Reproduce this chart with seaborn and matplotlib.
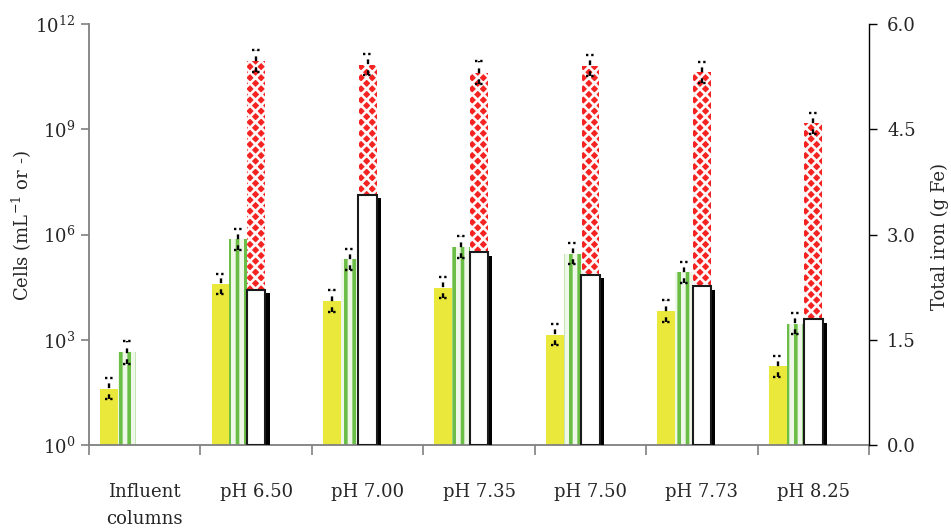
import numpy as np
import pandas as pd
import matplotlib
matplotlib.use("Agg")
import matplotlib.pyplot as plt
import matplotlib.patheffects as pe
from matplotlib.ticker import NullLocator
import seaborn as sns

# ---------------- data ----------------
categories = ["Influent\ncolumns", "pH 6.50", "pH 7.00", "pH 7.35",
              "pH 7.50", "pH 7.73", "pH 8.25"]
yellow_cells = [40, 3.9e4, 1.27e4, 3.0e4, 1.37e3, 6.6e3, 178]
green_cells = [437, 7.4e5, 2.0e5, 4.4e5, 2.8e5, 8.5e4, 2.9e3]
red_cells = [np.nan, 9.0e10, 6.8e10, 4.1e10, 6.5e10, 4.2e10, 1.5e9]
total_iron = [np.nan, 2.21, 3.57, 2.75, 2.43, 2.26, 1.79]
# error bars, half-range in decades (log10)
yellow_err = [0.30, 0.29, 0.31, 0.30, 0.30, 0.30, 0.30]
green_err = [0.32, 0.30, 0.30, 0.30, 0.30, 0.30, 0.30]
red_err = [np.nan, 0.31, 0.30, 0.32, 0.30, 0.30, 0.30]
left_ticks = [1, 1e3, 1e6, 1e9, 1e12]
left_ticklabels = ["$10^{0}$", "$10^{3}$", "$10^{6}$", "$10^{9}$", "$10^{12}$"]
right_ticks = [0.0, 1.5, 3.0, 4.5, 6.0]
right_ticklabels = ["0.0", "1.5", "3.0", "4.5", "6.0"]

series_names = ["Yellow", "Green", "Red", "_s4", "_s5"]

# ---------------- style ----------------
sns.set_theme(style="ticks")
plt.rcParams["font.family"] = ["DejaVu Serif"]
plt.rcParams["mathtext.fontset"] = "dejavuserif"
plt.rcParams["hatch.linewidth"] = 1.9

YELLOW = "#ebe83c"
GREEN = "#6abd45"
RED = "#f52222"
GRAY = "#808080"
FS = 13

rows = []
for name, vals, errs in [("Yellow", yellow_cells, yellow_err),
                         ("Green", green_cells, green_err),
                         ("Red", red_cells, red_err)]:
    for c, v, e in zip(categories, vals, errs):
        rows.append({"cat": c, "series": name, "cells": v, "err": e})
cells_df = pd.DataFrame(rows)
iron_df = pd.DataFrame({"cat": categories, "iron": total_iron})

fig, ax = plt.subplots(figsize=(9.51, 5.32), dpi=100)
fig.subplots_adjust(left=0.0936, right=0.9138, bottom=0.1635, top=0.9549)
ax.set_yscale("log")

palette = {"Yellow": YELLOW, "Green": "#eef7e8", "Red": RED,
           "_s4": "white", "_s5": "white"}
sns.barplot(data=cells_df, x="cat", y="cells", hue="series",
            hue_order=series_names, order=categories, palette=palette,
            width=0.8, saturation=1, errorbar=None, legend=False,
            linewidth=0, ax=ax)

# style containers: yellow solid, green stripes, red dots (white lattice on red)
styles = {
    "Yellow": dict(hatch=None, edge=YELLOW, hlw=None),
    "Green": dict(hatch="||", edge=GREEN, hlw=2.6),
    "Red": dict(hatch="xxx", edge="#fff8f8", hlw=1.9),
}
err_lookup = {"Yellow": yellow_err, "Green": green_err, "Red": red_err}
present = [s for s in series_names if cells_df.loc[cells_df.series == s, "cells"].notna().any()]
for name, cont in zip(present, ax.containers):
    st = styles[name]
    for p in cont.patches:
        p.set_linewidth(0)
        p.set_edgecolor(st["edge"])
        if st["hatch"]:
            p.set_hatch(st["hatch"])
            if hasattr(p, "set_hatch_linewidth"):
                p.set_hatch_linewidth(st["hlw"])
        # error bars
        h = p.get_height()
        if not np.isfinite(h) or h <= 0:
            continue
        xc = p.get_x() + p.get_width() / 2
        idx = int(round(xc))
        e = err_lookup[name][idx]
        lo, hi = h / 10 ** e, h * 10 ** e
        hw = p.get_width() * 0.24
        ax.vlines(xc, lo, hi, colors="black", linewidth=1.7,
                  linestyles=(0, (2.0, 2.6)), zorder=5)
        ax.hlines([lo, hi], xc - hw, xc + hw, colors="black", linewidth=1.7,
                  linestyles=(0, (1.0, 1.2)), zorder=5)

ax.set_ylim(1, 1e12)
ax.set_yticks(left_ticks)
ax.set_yticklabels(left_ticklabels)
ax.yaxis.set_minor_locator(NullLocator())
ax.tick_params(axis="y", which="major", length=6, width=1.2, color=GRAY,
               direction="out", labelsize=FS, pad=4)

# secondary axis: total iron
ax2 = ax.twinx()
sns.barplot(data=iron_df, x="cat", y="iron", order=categories, ax=ax2,
            width=0.167, color="white", saturation=1, errorbar=None,
            edgecolor="#1a1a1a", linewidth=1.5)
for p in ax2.patches:
    p.set_path_effects([pe.SimplePatchShadow(offset=(3, -2.5),
                                             shadow_rgbFace="black", alpha=1.0),
                        pe.Normal()])
ax2.set_ylim(0, 6)
ax2.set_yticks(right_ticks)
ax2.set_yticklabels(right_ticklabels)
ax2.tick_params(axis="y", length=6, width=1.0, color="black",
                direction="out", labelsize=FS, pad=7)

# x axis
ax.set_xlim(-0.5, len(categories) - 0.5)
ax.set_xticks(range(len(categories)))
ax.set_xticklabels(categories)
ax.set_xticks(np.arange(-0.5, len(categories), 1.0), minor=True)
ax.tick_params(axis="x", which="major", length=0, labelsize=FS, pad=27)
ax.tick_params(axis="x", which="minor", length=7, width=1.2, color=GRAY,
               direction="out")
for lbl in ax.get_xticklabels():
    lbl.set_linespacing(1.7)
ax.set_xlabel("")

# spines
for s in ["top", "right"]:
    ax.spines[s].set_visible(False)
ax.spines["left"].set_color(GRAY)
ax.spines["bottom"].set_color(GRAY)
ax.spines["left"].set_linewidth(1.3)
ax.spines["bottom"].set_linewidth(1.3)
for s in ["top", "left", "bottom"]:
    ax2.spines[s].set_visible(False)
ax2.spines["right"].set_color("black")
ax2.spines["right"].set_linewidth(1.0)

ax.set_ylabel("Cells (mL$^{-1}$ or -)", fontsize=FS)
ax.yaxis.set_label_coords(-0.071, 0.52)
ax2.set_ylabel("Total iron (g Fe)", fontsize=FS)
ax2.yaxis.set_label_coords(1.079, 0.495)
ax2.set_xlabel("")

fig.savefig("out.png", dpi=100)
